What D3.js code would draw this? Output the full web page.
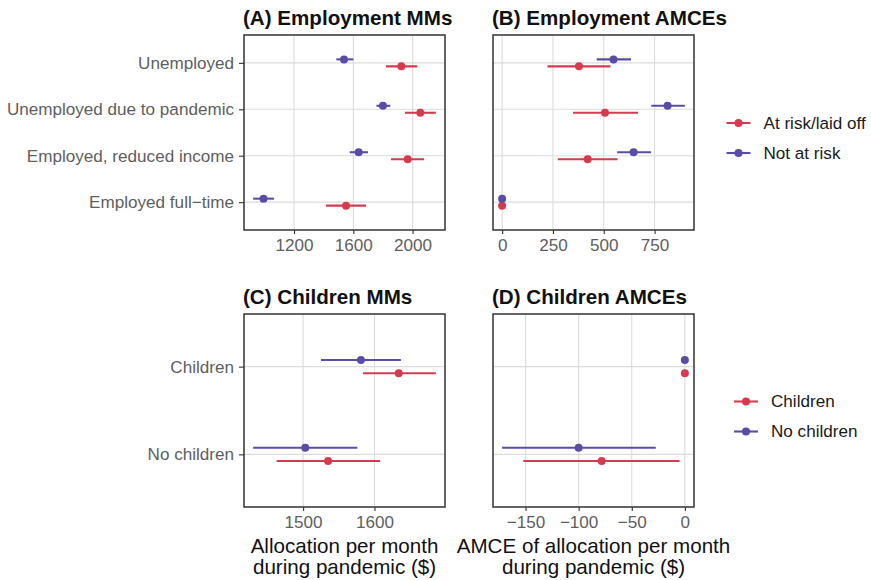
<!DOCTYPE html>
<html>
<head>
<meta charset="utf-8">
<script src="https://cdn.jsdelivr.net/npm/d3@7"></script>
<style>
  html, body { margin: 0; padding: 0; background: #fff; }
  svg { display: block; font-family: "Liberation Sans", Arial, Helvetica, sans-serif; }
</style>
</head>
<body>
<svg id="chart" width="871" height="580"></svg>
<script>
// Employment profiles, listed bottom to top
const employmentCategories = ["Employed full\u2212time", "Employed, reduced income", "Unemployed due to pandemic", "Unemployed"];
const childrenCategories = ["No children", "Children"];

// (A) marginal means, by risk group
const mmNotAtRiskEst = [994, 1636, 1800, 1537];
const mmNotAtRiskLo  = [924, 1576, 1756, 1485];
const mmNotAtRiskHi  = [1065, 1699, 1850, 1600];
const mmAtRiskEst = [1551, 1967, 2052, 1924];
const mmAtRiskLo  = [1416, 1854, 1949, 1820];
const mmAtRiskHi  = [1686, 2077, 2157, 2032];

// (B) AMCEs relative to full-time employment (reference level has no interval)
const amceNotAtRiskEst = [0, 647, 814, 548];
const amceNotAtRiskLo  = [null, 566, 734, 465];
const amceNotAtRiskHi  = [null, 732, 899, 634];
const amceAtRiskEst = [0, 421, 506, 378];
const amceAtRiskLo  = [null, 274, 349, 223];
const amceAtRiskHi  = [null, 568, 669, 533];

// (C) marginal means, by respondent group
const cmmNoChildrenEst = [1503, 1581];
const cmmNoChildrenLo  = [1430, 1525];
const cmmNoChildrenHi  = [1576, 1637];
const cmmChildrenEst = [1535, 1634];
const cmmChildrenLo  = [1463, 1584];
const cmmChildrenHi  = [1608, 1686];

// (D) AMCEs relative to "Children"
const camceNoChildrenEst = [-100, 0];
const camceNoChildrenLo  = [-172, null];
const camceNoChildrenHi  = [-27.4, null];
const camceChildrenEst = [-78.3, 0];
const camceChildrenLo  = [-152, null];
const camceChildrenHi  = [-5, null];

const ticksA = [1200, 1600, 2000];
const ticksB = [0, 250, 500, 750];
const ticksC = [1500, 1600];
const ticksD = [-150, -100, -50, 0];

const RED = "#D63A4F";
const BLUE = "#5A4CA6";

const svg = d3.select("#chart");

function series(cats, est, lo, hi) {
  return cats.map((c, i) => ({ cat: c, est: est[i], lo: lo[i], hi: hi[i] }));
}

function expandedDomain(allSeries) {
  const vals = [];
  allSeries.forEach(s => s.forEach(d => {
    vals.push(d.est);
    if (d.lo != null) vals.push(d.lo);
    if (d.hi != null) vals.push(d.hi);
  }));
  const [mn, mx] = d3.extent(vals);
  const pad = (mx - mn) * 0.05;
  return [mn - pad, mx + pad];
}

const fmt = v => String(v).replace("-", "\u2212");

function panel(opt) {
  const { x0, x1, y0, y1, title, cats, groups, ticks, showY } = opt;
  const g = svg.append("g");
  const x = d3.scaleLinear().domain(expandedDomain(groups.map(gr => gr.data))).range([x0, x1]);
  const y = d3.scalePoint().domain(cats).range([y1, y0]).padding(0.6);
  const dodge = y.step() * 0.075;

  // grid
  g.append("g").selectAll("line").data(ticks).join("line")
    .attr("x1", d => x(d)).attr("x2", d => x(d))
    .attr("y1", y0).attr("y2", y1)
    .attr("stroke", "#DCDCDC").attr("stroke-width", 1.1);
  g.append("g").selectAll("line").data(cats).join("line")
    .attr("x1", x0).attr("x2", x1)
    .attr("y1", d => y(d)).attr("y2", d => y(d))
    .attr("stroke", "#DCDCDC").attr("stroke-width", 1.1);

  // x axis
  const xAxis = d3.axisBottom(x).tickValues(ticks).tickSize(4).tickPadding(5).tickFormat(fmt);
  const xa = g.append("g").attr("transform", `translate(0,${y1})`).call(xAxis);
  xa.select(".domain").remove();
  xa.selectAll(".tick line").attr("stroke", "#333").attr("stroke-width", 1.1);
  xa.selectAll(".tick text").attr("fill", "#5E5E5E").style("font-size", "17.1px")
    .attr("font-family", null);

  if (showY) {
    const yAxis = d3.axisLeft(y).tickSize(5).tickPadding(5);
    const ya = g.append("g").attr("transform", `translate(${x0},0)`).call(yAxis);
    ya.select(".domain").remove();
    ya.selectAll(".tick line").attr("stroke", "#333").attr("stroke-width", 1.1);
    ya.selectAll(".tick text").attr("fill", "#5E5E5E").style("font-size", "17.1px")
      .attr("font-family", null);
  }

  // estimates with intervals
  groups.forEach(gr => {
    const gg = g.append("g");
    const off = gr.offset * dodge;
    gg.selectAll("line").data(gr.data.filter(d => d.lo != null)).join("line")
      .attr("x1", d => x(d.lo)).attr("x2", d => x(d.hi))
      .attr("y1", d => y(d.cat) + off).attr("y2", d => y(d.cat) + off)
      .attr("stroke", gr.color).attr("stroke-width", 2.1);
    gg.selectAll("circle").data(gr.data).join("circle")
      .attr("cx", d => x(d.est)).attr("cy", d => y(d.cat) + off)
      .attr("r", 4).attr("fill", gr.color);
  });

  // border
  g.append("rect").attr("x", x0).attr("y", y0)
    .attr("width", x1 - x0).attr("height", y1 - y0)
    .attr("fill", "none").attr("stroke", "#333").attr("stroke-width", 1.5);

  g.append("text").attr("x", x0 - 1).attr("y", y0 - 10.5)
    .attr("font-weight", "bold").style("font-size", "20.6px").attr("fill", "#111")
    .text(title);
}

panel({
  x0: 244, x1: 445, y0: 35, y1: 230, title: "(A) Employment MMs",
  cats: employmentCategories, ticks: ticksA, showY: true,
  groups: [
    { color: RED, offset: 1, data: series(employmentCategories, mmAtRiskEst, mmAtRiskLo, mmAtRiskHi) },
    { color: BLUE, offset: -1, data: series(employmentCategories, mmNotAtRiskEst, mmNotAtRiskLo, mmNotAtRiskHi) }
  ]
});
panel({
  x0: 493, x1: 694, y0: 35, y1: 230, title: "(B) Employment AMCEs",
  cats: employmentCategories, ticks: ticksB, showY: false,
  groups: [
    { color: RED, offset: 1, data: series(employmentCategories, amceAtRiskEst, amceAtRiskLo, amceAtRiskHi) },
    { color: BLUE, offset: -1, data: series(employmentCategories, amceNotAtRiskEst, amceNotAtRiskLo, amceNotAtRiskHi) }
  ]
});
panel({
  x0: 244, x1: 445, y0: 314, y1: 507, title: "(C) Children MMs",
  cats: childrenCategories, ticks: ticksC, showY: true,
  groups: [
    { color: RED, offset: 1, data: series(childrenCategories, cmmChildrenEst, cmmChildrenLo, cmmChildrenHi) },
    { color: BLUE, offset: -1, data: series(childrenCategories, cmmNoChildrenEst, cmmNoChildrenLo, cmmNoChildrenHi) }
  ]
});
panel({
  x0: 493, x1: 694, y0: 314, y1: 507, title: "(D) Children AMCEs",
  cats: childrenCategories, ticks: ticksD, showY: false,
  groups: [
    { color: RED, offset: 1, data: series(childrenCategories, camceChildrenEst, camceChildrenLo, camceChildrenHi) },
    { color: BLUE, offset: -1, data: series(childrenCategories, camceNoChildrenEst, camceNoChildrenLo, camceNoChildrenHi) }
  ]
});

// axis titles
function axisTitle(cx, lines) {
  const t = svg.append("text").attr("text-anchor", "middle").style("font-size", "20.6px").attr("fill", "#111");
  lines.forEach((l, i) => t.append("tspan").attr("x", cx).attr("y", 553 + i * 21).text(l));
}
axisTitle(344.5, ["Allocation per month", "during pandemic ($)"]);
axisTitle(593.5, ["AMCE of allocation per month", "during pandemic ($)"]);

// legends
function legend(xLine, yStart, items) {
  const g = svg.append("g");
  items.forEach((it, i) => {
    const yy = yStart + i * 30;
    g.append("line").attr("x1", xLine).attr("x2", xLine + 24).attr("y1", yy).attr("y2", yy)
      .attr("stroke", it.color).attr("stroke-width", 2.1);
    g.append("circle").attr("cx", xLine + 12).attr("cy", yy).attr("r", 4).attr("fill", it.color);
    g.append("text").attr("x", xLine + 37).attr("y", yy).attr("dy", "0.35em")
      .style("font-size", "17.1px").attr("fill", "#1a1a1a").text(it.label);
  });
}
legend(726.5, 123, [{ label: "At risk/laid off", color: RED }, { label: "Not at risk", color: BLUE }]);
legend(734, 401.5, [{ label: "Children", color: RED }, { label: "No children", color: BLUE }]);
</script>
</body>
</html>
